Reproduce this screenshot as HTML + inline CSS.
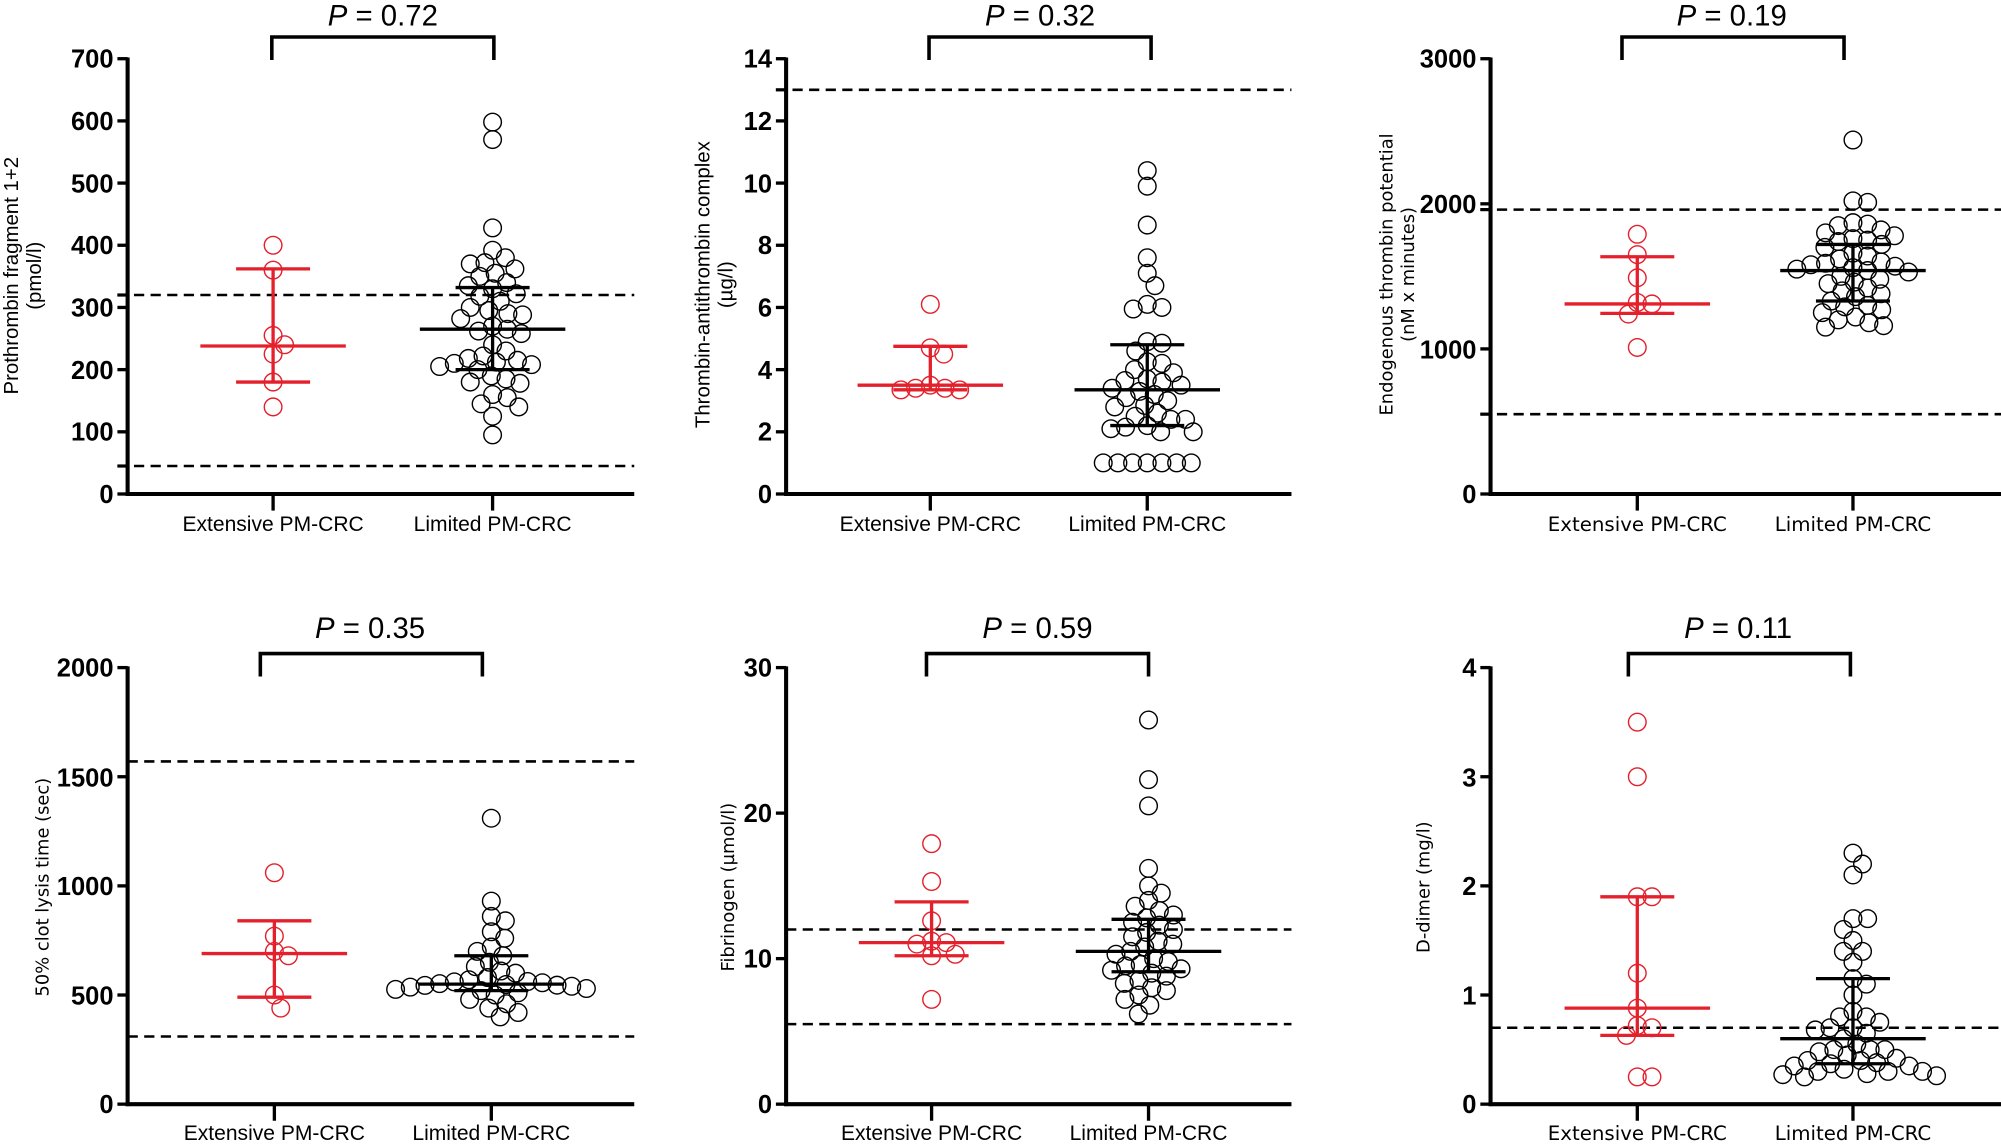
<!DOCTYPE html>
<html><head><meta charset="utf-8"><style>
html,body{margin:0;padding:0;background:#fff;width:2001px;height:1145px;overflow:hidden}
svg{display:block}
.t{font-family:"Liberation Sans Narrow","Liberation Sans",sans-serif;font-weight:bold;font-size:20px;text-anchor:end}
.c{font-family:"Liberation Sans",sans-serif;font-size:16.5px;text-anchor:middle}
.y{font-family:"Liberation Sans",sans-serif;font-size:16px;text-anchor:middle}
.p{font-family:"Liberation Sans",sans-serif;font-size:23px;text-anchor:middle}
</style></head><body>
<svg id="s" width="2001" height="1145" viewBox="0 0 1568 897" preserveAspectRatio="none" xmlns="http://www.w3.org/2000/svg">
<g id="g"></g>
<!-- Panel 1 -->
<text class="p" x="300" y="20"><tspan font-style="italic">P</tspan> = 0.72</text>
<text class="t" x="89" y="394">0</text><text class="t" x="89" y="345">100</text><text class="t" x="89" y="297">200</text><text class="t" x="89" y="248">300</text><text class="t" x="89" y="199">400</text><text class="t" x="89" y="151">500</text><text class="t" x="89" y="102">600</text><text class="t" x="89" y="53">700</text>
<text class="c" x="214" y="416">Extensive PM-CRC</text><text class="c" x="386" y="416">Limited PM-CRC</text>
<text class="y" transform="translate(14,216) rotate(-90)">Prothrombin fragment 1+2</text>
<text class="y" transform="translate(32,216) rotate(-90)">(pmol/l)</text>
<!-- Panel 2 -->
<text class="p" x="815" y="20"><tspan font-style="italic">P</tspan> = 0.32</text>
<text class="t" x="605" y="394">0</text><text class="t" x="605" y="345">2</text><text class="t" x="605" y="297">4</text><text class="t" x="605" y="248">6</text><text class="t" x="605" y="199">8</text><text class="t" x="605" y="151">10</text><text class="t" x="605" y="102">12</text><text class="t" x="605" y="53">14</text>
<text class="c" x="729" y="416">Extensive PM-CRC</text><text class="c" x="899" y="416">Limited PM-CRC</text>
<text class="y" transform="translate(556,223) rotate(-90)">Thrombin-antithrombin complex</text>
<text class="y" transform="translate(574,223) rotate(-90)">(µg/l)</text>
<!-- Panel 3 -->
<text class="p" x="1357" y="20"><tspan font-style="italic">P</tspan> = 0.19</text>
<text class="t" x="1157" y="394">0</text><text class="t" x="1157" y="281">1000</text><text class="t" x="1157" y="167">2000</text><text class="t" x="1157" y="53">3000</text>
<text class="c" x="1283" y="416" style="font-family:'DejaVu Sans',sans-serif;font-size:15.5px">Extensive PM-CRC</text><text class="c" x="1452" y="416" style="font-family:'DejaVu Sans',sans-serif;font-size:15.5px">Limited PM-CRC</text>
<text class="y" transform="translate(1091,215) rotate(-90)" style="font-family:'DejaVu Sans',sans-serif;font-size:14px">Endogenous thrombin potential</text>
<text class="y" transform="translate(1108,215) rotate(-90)" style="font-family:'DejaVu Sans',sans-serif;font-size:14px">(nM x minutes)</text>
<!-- Panel 4 -->
<text class="p" x="290" y="500"><tspan font-style="italic">P</tspan> = 0.35</text>
<text class="t" x="89" y="872">0</text><text class="t" x="89" y="787">500</text><text class="t" x="89" y="701">1000</text><text class="t" x="89" y="616">1500</text><text class="t" x="89" y="530">2000</text>
<text class="c" x="215" y="893">Extensive PM-CRC</text><text class="c" x="385" y="893">Limited PM-CRC</text>
<text class="y" transform="translate(38,695) rotate(-90)" style="font-family:'DejaVu Sans',sans-serif;font-size:14px">50% clot lysis time (sec)</text>
<!-- Panel 5 -->
<text class="p" x="813" y="500"><tspan font-style="italic">P</tspan> = 0.59</text>
<text class="t" x="605" y="872">0</text><text class="t" x="605" y="758">10</text><text class="t" x="605" y="644">20</text><text class="t" x="605" y="530">30</text>
<text class="c" x="730" y="893">Extensive PM-CRC</text><text class="c" x="900" y="893">Limited PM-CRC</text>
<text class="y" transform="translate(575,695) rotate(-90)" style="font-family:'DejaVu Sans',sans-serif;font-size:14px">Fibrinogen (µmol/l)</text>
<!-- Panel 6 -->
<text class="p" x="1362" y="500"><tspan font-style="italic">P</tspan> = 0.11</text>
<text class="t" x="1157" y="872">0</text><text class="t" x="1157" y="787">1</text><text class="t" x="1157" y="701">2</text><text class="t" x="1157" y="616">3</text><text class="t" x="1157" y="530">4</text>
<text class="c" x="1283" y="893" style="font-family:'DejaVu Sans',sans-serif;font-size:15.5px">Extensive PM-CRC</text><text class="c" x="1452" y="893" style="font-family:'DejaVu Sans',sans-serif;font-size:15.5px">Limited PM-CRC</text>
<text class="y" transform="translate(1120,695) rotate(-90)" style="font-family:'DejaVu Sans',sans-serif;font-size:14px">D-dimer (mg/l)</text>
</svg>
<script>
var NS="http://www.w3.org/2000/svg",G=document.getElementById("g");
function el(n,a){var e=document.createElementNS(NS,n);for(var k in a)e.setAttribute(k,a[k]);G.appendChild(e);return e;}
function L(x1,y1,x2,y2,c,w,d){var a={x1:x1,y1:y1,x2:x2,y2:y2,stroke:c,"stroke-width":w};if(d)a["stroke-dasharray"]=d;el("line",a);}
var RED="#e3202b",R=6.9;
var P=[
{ax:100,xe:497,top:46,bot:387,max:700,ticks:[0,100,200,300,400,500,600,700],dash:[320,45],dt:true,cx:[214,386],br:[213,387],bt:29,
 red:[400,360,255,240,225,180,140],rs:[238,362,180],
 blk:[598,570,428,392,380,372,370,362,355,350,340,335,330,322,318,310,300,295,290,288,282,270,265,262,258,240,230,222,218,215,212,210,208,205,200,190,185,180,178,160,155,145,140,125,95],bs:[265,332,200]},
{ax:616,xe:1012,top:46,bot:387,max:14,ticks:[0,2,4,6,8,10,12,14],dash:[13],dt:true,cx:[729,899],br:[728,902],bt:29,
 red:[6.1,4.7,4.5,3.5,3.4,3.4,3.35,3.35],rs:[3.5,4.75,3.35],
 blk:[10.4,9.9,8.65,7.6,7.1,6.7,6.1,6,5.95,4.9,4.85,4.6,4.25,4.2,4,3.9,3.7,3.65,3.6,3.5,3.4,3.3,3.2,3.1,3,2.85,2.8,2.6,2.5,2.4,2.4,2.2,2.15,2.1,2,2,1,1,1,1,1,1,1],bs:[3.35,4.8,2.2]},
{ax:1168,xe:1568,top:46,bot:387,max:3000,ticks:[0,1000,2000,3000],dash:[1960,550],dt:true,cx:[1283,1452],br:[1271,1445],bt:29,
 red:[1790,1650,1490,1320,1310,1240,1010],rs:[1310,1635,1245],
 blk:[2440,2020,2010,1870,1860,1850,1820,1800,1780,1760,1750,1740,1720,1700,1660,1640,1620,1600,1590,1580,1570,1560,1550,1540,1530,1500,1480,1460,1450,1420,1400,1380,1360,1330,1300,1290,1270,1250,1220,1200,1180,1160,1150],bs:[1540,1720,1330]},
{ax:100,xe:497,top:523,bot:865,max:2000,ticks:[0,500,1000,1500,2000],dash:[1570,310],dt:false,cx:[215,385],br:[204,378],bt:512,
 red:[1060,770,700,680,500,440],rs:[690,840,490],
 blk:[1310,930,860,840,790,760,720,700,680,650,630,610,600,580,570,562,556,552,548,544,540,536,530,526,520,510,500,480,460,440,420,400,560,545],bs:[550,680,520]},
{ax:616,xe:1012,top:523,bot:865,max:30,ticks:[0,10,20,30],dash:[12,5.5],dt:false,cx:[730,900],br:[726,900],bt:512,
 red:[17.9,15.3,12.6,11.2,11.1,11,10.3,10.2,7.2],rs:[11.1,13.9,10.2],
 blk:[26.4,22.3,20.5,16.2,15,14.5,14,13.6,13.3,13,12.8,12.5,12.3,12,11.8,11.5,11.2,11,10.8,10.5,10.3,10,9.8,9.6,9.5,9.3,9.2,9,8.8,8.5,8.3,8,7.8,7.5,7.2,6.8,6.2],bs:[10.5,12.7,9.1]},
{ax:1168,xe:1568,top:523,bot:865,max:4,ticks:[0,1,2,3,4],dash:[0.7],dt:false,cx:[1283,1452],br:[1276,1450],bt:512,
 red:[3.5,3.0,1.9,1.9,1.2,0.88,0.72,0.7,0.63,0.25,0.25],rs:[0.88,1.9,0.63],
 blk:[2.3,2.2,2.1,1.7,1.7,1.6,1.5,1.4,1.4,1.3,1.15,1.1,1.0,0.85,0.8,0.8,0.75,0.7,0.7,0.68,0.65,0.6,0.55,0.5,0.5,0.5,0.48,0.45,0.42,0.4,0.4,0.38,0.37,0.35,0.35,0.32,0.3,0.3,0.3,0.28,0.27,0.26,0.25],bs:[0.6,1.15,0.37]}
];
function swarm(vals,cx,Y,col){
 var pl=[];vals.slice().sort(function(a,b){return b-a}).forEach(function(v){
  var y=Y(v),best=0;
  for(var i=0;i<400;i++){var dx=(i%2?1:-1)*Math.ceil(i/2)*0.5,ok=true;
   for(var j=0;j<pl.length;j++){var q=pl[j],dd=(q[0]-cx-dx)*(q[0]-cx-dx)+(q[1]-y)*(q[1]-y);if(dd<(2*R-2.5)*(2*R-2.5)){ok=false;break;}}
   if(ok){best=dx;break;}}
  pl.push([cx+best,y]);
  el("circle",{cx:cx+best,cy:y,r:R,fill:"none",stroke:col,"stroke-width":1.1});
 });
}
function stats(s,cx,Y,col){
 L(cx-57,Y(s[0]),cx+57,Y(s[0]),col,2.6);
 L(cx-29,Y(s[1]),cx+29,Y(s[1]),col,2.6);
 L(cx-29,Y(s[2]),cx+29,Y(s[2]),col,2.6);
 L(cx,Y(s[1]),cx,Y(s[2]),col,2.6);
}
P.forEach(function(p){
 var Y=function(v){return p.bot-(p.bot-p.top)*v/p.max;};
 p.dash.forEach(function(v){L(p.dt?p.ax-8:p.ax,Y(v),p.xe,Y(v),"#000",2,"8 5"); if(p.dt)L(p.ax-8,Y(v),p.ax,Y(v),"#000",2.5);});
 swarm(p.red,p.cx[0],Y,RED);swarm(p.blk,p.cx[1],Y,"#000");
 stats(p.rs,p.cx[0],Y,RED);stats(p.bs,p.cx[1],Y,"#000");
 L(p.ax,p.top-1,p.ax,p.bot+1.5,"#000",3.2);
 L(p.ax-1.5,p.bot,p.xe,p.bot,"#000",3.2);
 p.ticks.forEach(function(t){L(p.ax-8,Y(t),p.ax,Y(t),"#000",2.6);});
 p.cx.forEach(function(c){L(c,p.bot,c,p.bot+13,"#000",2.6);});
 el("path",{d:"M"+p.br[0]+","+(p.bt+18)+"V"+p.bt+"H"+p.br[1]+"V"+(p.bt+18),fill:"none",stroke:"#000","stroke-width":2.8});
});
</script>
</body></html>
